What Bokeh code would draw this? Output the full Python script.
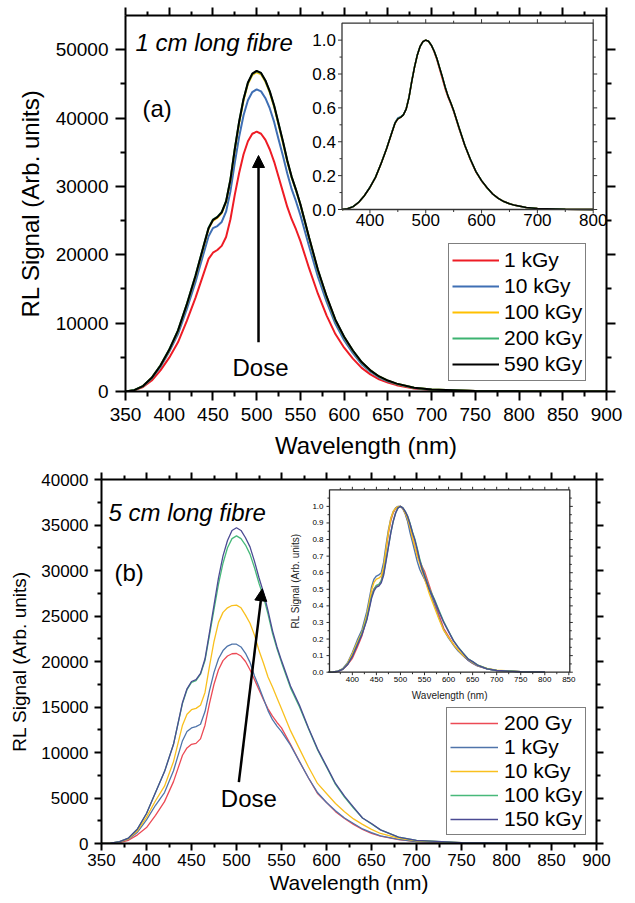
import numpy as np
from bokeh.plotting import figure
from bokeh.models import Range1d, LinearAxis, FixedTicker, Legend, LegendItem, Arrow, NormalHead
from bokeh.layouts import column
from bokeh.core.properties import value
from bokeh.embed import file_html
from bokeh.resources import INLINE

FONT = "Liberation Sans"

# ---------------- data ----------------
wavelength = [350, 360, 370, 380, 390, 400, 410, 420, 430, 440,
              445, 450, 455, 460, 465, 470, 475, 480, 485, 490,
              495, 500, 505, 510, 515, 520, 525, 530, 535, 540,
              545, 550, 560, 570, 580, 590, 600, 610, 620, 630,
              640, 650, 660, 680, 700, 750, 800, 900]

# panel (a): 1 cm long fibre
a_names = ["1 kGy", "10 kGy", "100 kGy", "200 kGy", "590 kGy"]
a_colors = ["#ee1c25", "#3f6fb4", "#ffc000", "#3cb371", "#000000"]
a_1kGy = [0, 160, 650, 1600, 3100, 4950, 7200, 10300, 13700, 17500,
          19400, 20300, 20700, 21300, 22600, 25200, 28800, 32000, 34700, 36600,
          37700, 38000, 37700, 36800, 35400, 33600, 31400, 29200, 27000, 25200,
          23700, 22000, 18000, 14300, 11100, 8400, 6400, 4800, 3450, 2500,
          1780, 1300, 930, 450, 230, 65, 25, 0]
a_10kGy = [0, 190, 750, 1900, 3600, 5800, 8400, 12000, 16000, 20500,
           22700, 23900, 24200, 24800, 26300, 29300, 33500, 37300, 40400, 42600,
           43800, 44200, 43900, 42900, 41400, 39400, 36900, 34500, 31900, 29600,
           27800, 25800, 21200, 16800, 13100, 9900, 7500, 5600, 4000, 2900,
           2050, 1500, 1080, 520, 260, 75, 28, 0]
a_100kGy = [0, 200, 800, 2000, 3800, 6050, 8850, 12650, 16800, 21500,
            23800, 25000, 25400, 26100, 27700, 30900, 35400, 39300, 42600, 45000,
            46300, 46700, 46400, 45300, 43700, 41600, 39000, 36400, 33600, 31300,
            29400, 27300, 22400, 17700, 13800, 10400, 7950, 5950, 4280, 3080,
            2190, 1590, 1140, 545, 278, 80, 30, 0]
a_200kGy = [0, 205, 810, 2020, 3830, 6150, 8950, 12750, 16950, 21650,
            23950, 25150, 25550, 26250, 27850, 31050, 35550, 39500, 42800, 45150,
            46450, 46850, 46550, 45450, 43850, 41750, 39150, 36550, 33750, 31350,
            29450, 27350, 22450, 17750, 13850, 10450, 7980, 5980, 4290, 3090,
            2195, 1595, 1145, 548, 279, 80, 30, 0]
a_590kGy = [0, 200, 800, 2000, 3800, 6100, 8900, 12700, 16900, 21600,
            23900, 25100, 25500, 26200, 27800, 31000, 35500, 39500, 42800, 45200,
            46500, 46900, 46600, 45500, 43900, 41800, 39200, 36600, 33800, 31400,
            29500, 27400, 22500, 17800, 13900, 10500, 8000, 6000, 4300, 3100,
            2200, 1600, 1150, 550, 280, 80, 30, 0]

# panel (b): 5 cm long fibre
b_names = ["200 Gy", "1 kGy", "10 kGy", "100 kGy", "150 kGy"]
b_colors = ["#ec4a55", "#4f74aa", "#f9c01e", "#47b97a", "#4b4b93"]
b_200Gy = [0, 20, 100, 350, 950, 1750, 3100, 4600, 6800, 9700,
           10500, 10900, 11000, 11500, 13000, 15400, 17500, 19100, 20100, 20600,
           20850, 20880, 20600, 20000, 19100, 18000, 16900, 15800, 14800, 14000,
           13300, 12700, 10900, 9000, 7200, 5500, 4500, 3500, 2750, 2100,
           1550, 1100, 800, 430, 200, 70, 30, 0]
b_1kGy = [0, 30, 150, 470, 1250, 2600, 4200, 5600, 8000, 11300,
          12300, 12700, 12850, 13100, 14500, 16800, 18800, 20300, 21200, 21700,
          21900, 21900, 21600, 20900, 19900, 18400, 17200, 15900, 14600, 13600,
          12900, 12300, 10800, 9000, 7200, 5600, 4500, 3600, 2800, 2200,
          1600, 1200, 850, 450, 220, 70, 30, 0]
b_10kGy = [0, 40, 170, 520, 1400, 2900, 4700, 6300, 9000, 13000,
           14200, 14700, 14850, 15200, 16600, 19500, 22200, 24300, 25400, 25900,
           26150, 26200, 25900, 25100, 24200, 22900, 21200, 19800, 18300, 17200,
           16000, 14800, 12400, 10400, 8400, 6600, 5500, 4400, 3500, 2700,
           2100, 1550, 1100, 600, 300, 90, 30, 0]
b_100kGy = [0, 50, 200, 600, 1600, 3300, 5600, 7900, 10900, 15400,
            16900, 17700, 17900, 18600, 20100, 22900, 25700, 28500, 30800, 32500,
            33500, 33800, 33500, 32800, 31800, 30300, 28600, 27100, 25200, 23100,
            21400, 19900, 17100, 15000, 12600, 10300, 8400, 6500, 5100, 3900,
            2800, 2150, 1500, 700, 350, 100, 40, 0]
b_150kGy = [0, 50, 200, 600, 1600, 3300, 5600, 7900, 10900, 15500,
            17000, 17800, 18000, 18700, 20300, 23200, 26200, 29200, 31600, 33300,
            34400, 34700, 34400, 33600, 32600, 31000, 29200, 27600, 25600, 23400,
            21600, 20100, 17300, 15200, 12700, 10400, 8500, 6600, 5200, 4000,
            2800, 2200, 1500, 700, 350, 100, 40, 0]

# ticks
main_x_ticks = [350, 400, 450, 500, 550, 600, 650, 700, 750, 800, 850, 900]
main_x_minor = [375, 425, 475, 525, 575, 625, 675, 725, 775, 825, 875]
a_y_ticks = [0, 10000, 20000, 30000, 40000, 50000]
a_y_minor = [5000, 15000, 25000, 35000, 45000]
b_y_ticks = [0, 5000, 10000, 15000, 20000, 25000, 30000, 35000, 40000]
b_y_minor = [2500, 7500, 12500, 17500, 22500, 27500, 32500, 37500]

ia_x_ticks = [400, 500, 600, 700, 800]
ia_x_minor = [450, 550, 650, 750]
ia_y_ticks = [0.0, 0.2, 0.4, 0.6, 0.8, 1.0]
ia_y_minor = [0.1, 0.3, 0.5, 0.7, 0.9]
ib_x_ticks = [400, 450, 500, 550, 600, 650, 700, 750, 800, 850]
ib_x_minor = [375, 425, 475, 525, 575, 625, 675, 725, 775, 825]
ib_y_ticks = [0.0, 0.1, 0.2, 0.3, 0.4, 0.5, 0.6, 0.7, 0.8, 0.9, 1.0]
ib_y_minor = [0.05, 0.15, 0.25, 0.35, 0.45, 0.55, 0.65, 0.75, 0.85, 0.95, 1.05]


# ---------------- helpers ----------------
def base_figure(width, height, frame, xr, yr):
    L, R, T, B = frame
    p = figure(width=width, height=height, x_range=Range1d(*xr), y_range=Range1d(*yr),
               output_backend="svg", toolbar_location=None,
               min_border_left=L, min_border_right=width - R,
               min_border_top=T, min_border_bottom=height - B)
    p.frame_align = False
    p.grid.visible = False
    p.outline_line_color = None
    p.background_fill_color = "white"
    p.border_fill_color = "white"
    return p


def style_axis(ax, ticks, minor, maj, mnr, lw, font_size=None, standoff=0, labels=True):
    ax.ticker = FixedTicker(ticks=ticks, minor_ticks=minor)
    ax.axis_line_width = lw
    ax.axis_line_color = "black"
    ax.major_tick_line_width = lw
    ax.minor_tick_line_width = lw
    ax.major_tick_line_color = "black"
    ax.minor_tick_line_color = "black"
    ax.major_tick_out = maj
    ax.major_tick_in = 0
    ax.minor_tick_out = mnr
    ax.minor_tick_in = 0
    if labels:
        ax.major_label_overrides = {t: str(int(t)) for t in ticks}
        ax.major_label_text_font = FONT
        ax.major_label_text_font_size = font_size
        ax.major_label_standoff = standoff
        ax.major_label_text_color = "black"
    else:
        ax.major_label_overrides = {t: "" for t in ticks}
        ax.major_label_text_font_size = "0px"
        ax.major_label_standoff = 0


def axis_title(ax, text, size, standoff):
    ax.axis_label = text
    ax.axis_label_text_font = FONT
    ax.axis_label_text_font_size = size
    ax.axis_label_text_font_style = "normal"
    ax.axis_label_text_color = "black"
    ax.axis_label_standoff = standoff


def draw_inset(p, name, frame, box, xr, yr, series, colors, lw,
               xticks, xminor, yticks, yminor, maj, mnr, font_size, xgap, ygap,
               frame_color, frame_width, titles=None):
    FL, FR, FT, FB = frame
    IL, IR, IT, IB = box
    sx = (IR - IL) / (xr[1] - xr[0])
    sy = (IB - IT) / (yr[1] - yr[0])
    exr = dict(p.extra_x_ranges)
    eyr = dict(p.extra_y_ranges)
    exr[name] = Range1d(xr[0] - (IL - FL) / sx, xr[1] + (FR - IR) / sx)
    eyr[name] = Range1d(yr[0] - (FB - IB) / sy, yr[1] + (IT - FT) / sy)
    p.extra_x_ranges = exr
    p.extra_y_ranges = eyr
    kw = dict(x_range_name=name, y_range_name=name)

    for vals, c in zip(series, colors):
        peak = max(vals)
        xs = [w for w in wavelength if xr[0] - 3 <= w <= xr[1]]
        ys = [v / peak for w, v in zip(wavelength, vals) if xr[0] - 3 <= w <= xr[1]]
        p.line(xs, ys, line_color=c, line_width=lw, **kw)

    p.quad(left=[xr[0]], right=[xr[1]], bottom=[yr[0]], top=[yr[1]],
           fill_color=None, line_color=frame_color, line_width=frame_width, **kw)

    x0, y0, x1, y1 = [], [], [], []
    for t, L in [(t, maj) for t in xticks] + [(t, mnr) for t in xminor]:
        x0 += [t, t]; x1 += [t, t]
        y0 += [yr[0], yr[1]]; y1 += [yr[0] - L / sy, yr[1] + L / sy]
    for t, L in [(t, maj) for t in yticks] + [(t, mnr) for t in yminor]:
        y0 += [t, t]; y1 += [t, t]
        x0 += [xr[0], xr[1]]; x1 += [xr[0] - L / sx, xr[1] + L / sx]
    p.segment(x0=x0, y0=y0, x1=x1, y1=y1, line_color=frame_color, line_width=1, **kw)

    p.text(x=xticks, y=[yr[0] - xgap / sy] * len(xticks), text=[str(t) for t in xticks],
           text_align="center", text_baseline="top", text_font=value(FONT),
           text_font_size=font_size, text_color="black", **kw)
    p.text(x=[xr[0] - ygap / sx] * len(yticks), y=yticks, text=[f"{t:.1f}" for t in yticks],
           text_align="right", text_baseline="middle", text_font=value(FONT),
           text_font_size=font_size, text_color="black", **kw)
    if titles:
        xt, yt, tsize, xt_gap, yt_gap = titles
        p.text(x=[(xr[0] + xr[1]) / 2], y=[yr[0] - xt_gap / sy], text=[xt],
               text_align="center", text_baseline="middle", text_font=value(FONT),
               text_font_size=tsize, text_color="#222222", **kw)
        p.text(x=[xr[0] - yt_gap / sx], y=[(yr[0] + yr[1]) / 2], text=[yt], angle=np.pi / 2,
               text_align="center", text_baseline="middle", text_font=value(FONT),
               text_font_size=tsize, text_color="#222222", **kw)


def add_legend(p, renderers, names, loc, size, row_h, glyph_w, standoff, pad):
    leg = Legend(items=[LegendItem(label=n, renderers=[r]) for n, r in zip(names, renderers)],
                 location=loc, label_text_font=FONT, label_text_font_size=size,
                 label_text_color="black", glyph_width=glyph_w, glyph_height=row_h,
                 label_height=row_h, label_standoff=standoff, spacing=0, padding=pad,
                 margin=0, border_line_color="black", border_line_width=1.5,
                 background_fill_color="white", background_fill_alpha=1.0)
    p.add_layout(leg)


# ---------------- panel (a) ----------------
W = 635
HA = 467
FA = (125, 606, 15, 391)
pa = base_figure(W, HA, FA, (350, 900), (0, 55000))
style_axis(pa.xaxis[0], main_x_ticks, main_x_minor, 9, 5, 2, "19px", 7)
style_axis(pa.yaxis[0], a_y_ticks, a_y_minor, 10, 5, 2, "19px", 7)
axis_title(pa.xaxis[0], "Wavelength (nm)", "24px", 8)
axis_title(pa.yaxis[0], "RL Signal (Arb. units)", "24px", 9)
top_a = LinearAxis()
right_a = LinearAxis()
style_axis(top_a, main_x_ticks, main_x_minor, 8, 4, 2, labels=False)
style_axis(right_a, a_y_ticks, a_y_minor, 9, 5, 2, labels=False)
pa.add_layout(top_a, "above")
pa.add_layout(right_a, "right")

a_series = [a_1kGy, a_10kGy, a_100kGy, a_200kGy, a_590kGy]
ra = [pa.line(wavelength, s, line_color=c, line_width=2) for s, c in zip(a_series, a_colors)]
add_legend(pa, ra, a_names, (323, 10), "21px", 26, 47, 5, 3)

pa.text(x=[361.4], y=[51050], text=["1 cm long fibre"], text_font=value(FONT),
        text_font_size="24px", text_font_style="italic", text_align="left",
        text_baseline="alphabetic", text_color="black")
pa.text(x=[369.4], y=[41400], text=["(a)"], text_font=value(FONT), text_font_size="24px",
        text_align="left", text_baseline="middle", text_color="black")
pa.text(x=[504.4], y=[3555], text=["Dose"], text_font=value(FONT), text_font_size="24px",
        text_align="center", text_baseline="middle", text_color="black")
pa.add_layout(Arrow(end=NormalHead(size=12, fill_color="black", line_color="black", line_width=1),
                    x_start=502.1, y_start=7210, x_end=502.1, y_end=34520,
                    line_width=2.5, line_color="black"))

draw_inset(pa, "ia", FA, (341.5, 592.7, 22.7, 209.0), (350, 800), (0.0, 1.1),
           a_series, a_colors, 1.5, ia_x_ticks, ia_x_minor, ia_y_ticks, ia_y_minor,
           4, 2.5, "17px", 4, 6, "#333333", 1.3)

# ---------------- panel (b) ----------------
HB = 903 - HA
FB_ = (101, 596, 12, 376)
pb = base_figure(W, HB, FB_, (350, 900), (0, 40000))
style_axis(pb.xaxis[0], main_x_ticks, main_x_minor, 7, 4, 2, "17px", 3)
style_axis(pb.yaxis[0], b_y_ticks, b_y_minor, 7, 4, 2, "17px", 6)
axis_title(pb.xaxis[0], "Wavelength (nm)", "21px", 2)
axis_title(pb.yaxis[0], "RL Signal (Arb. units)", "19px", 8)
top_b = LinearAxis()
right_b = LinearAxis()
style_axis(top_b, main_x_ticks, main_x_minor, 7, 4, 2, labels=False)
style_axis(right_b, b_y_ticks, b_y_minor, 7, 4, 2, labels=False)
pb.add_layout(top_b, "above")
pb.add_layout(right_b, "right")

b_series = [b_200Gy, b_1kGy, b_10kGy, b_100kGy, b_150kGy]
rb = [pb.line(wavelength, s, line_color=c, line_width=1.3) for s, c in zip(b_series, b_colors)]
add_legend(pb, rb, b_names, (345, 8), "21px", 24, 48, 6, 3)

pb.text(x=[357.8], y=[36400], text=["5 cm long fibre"], text_font=value(FONT),
        text_font_size="24px", text_font_style="italic", text_align="left",
        text_baseline="alphabetic", text_color="black")
pb.text(x=[364.4], y=[29800], text=["(b)"], text_font=value(FONT), text_font_size="24px",
        text_align="left", text_baseline="middle", text_color="black")
pb.text(x=[513.7], y=[4950], text=["Dose"], text_font=value(FONT), text_font_size="24px",
        text_align="center", text_baseline="middle", text_color="black")
pb.add_layout(Arrow(end=NormalHead(size=12, fill_color="black", line_color="black", line_width=1),
                    x_start=502.6, y_start=6740, x_end=528.6, y_end=27990,
                    line_width=2.5, line_color="black"))

draw_inset(pb, "ib", FB_, (329.0, 569.3, 22.3, 204.7), (352.5, 852), (0.0, 1.1),
           b_series, b_colors, 1.4, ib_x_ticks, ib_x_minor, ib_y_ticks, ib_y_minor,
           3, 2, "8px", 5, 6, "#2a2a2a", 1.3,
           titles=("Wavelength (nm)", "RL Signal (Arb. units)", "10px", 23, 34))

layout = column(pa, pb)
open("out.html", "w").write(file_html(layout, INLINE))
